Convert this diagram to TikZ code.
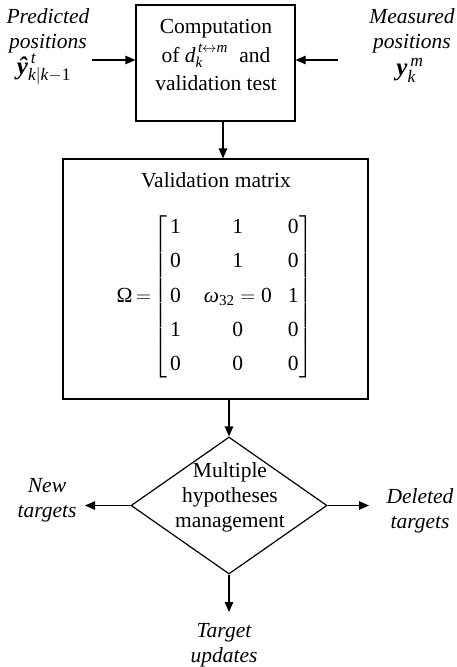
\documentclass[tikz,border=0pt]{standalone}
\usepackage{amsmath}
\usepackage{fontspec}
\setmainfont{Liberation Serif}
\usetikzlibrary{arrows.meta,shapes.geometric}
\newcommand{\ti}[1]{\text{\itshape #1}}
\newcommand{\tu}[1]{\text{\upshape #1}}
\newcommand{\tbi}[1]{\text{\bfseries\itshape #1}}
\begin{document}
\begin{tikzpicture}[x=1pt,y=-1pt,
  line width=1.2pt,
  every node/.style={font=\fontsize{21.5}{25}\selectfont},
  box/.style={draw, rectangle, inner sep=0pt},
  lbl/.style={align=center, inner sep=1pt, font=\fontsize{21.5}{25}\selectfont\itshape},
  bigmath/.style={inner sep=0pt, font=\fontsize{25}{30}\selectfont},
  arr/.style={-{Triangle[length=10pt,width=8.5pt]}}]
\useasboundingbox (0,0) rectangle (457,667);
% top box
\node[box, minimum width=159pt, minimum height=116pt] (comp) at (215.5,63) {};
\node[align=center, inner sep=0pt, font=\fontsize{21.5}{28.5}\selectfont] (comptxt) at (216,55)
  {Computation\\of $\ti{d}_{\ti{k}}^{\,\ti{t}\leftrightarrow\ti{m}}$\; and\\validation test};
% inputs
\node[lbl] (pred) at (48,31) {Predicted\\positions};
\node[bigmath] (yhat) at (44,69) {$\tbi{ŷ}^{\,\ti{t}}_{\ti{k}|\ti{k}-\tu{1}}$};
\node[lbl] (meas) at (412,31) {Measured\\positions};
\node[bigmath] (ym) at (410,70) {$\tbi{y}^{\,\ti{m}}_{\ti{k}}$};
\coordinate (pin) at (92,60);
\coordinate (min) at (338,60);
\draw[arr] (pin) -- (pin -| comp.west);
\draw[arr] (min) -- (min -| comp.east);
% matrix box
\node[box, minimum width=305pt, minimum height=240pt] (mat) at (215.5,279) {};
\node[inner sep=0pt] (mattitle) at (216,180) {Validation matrix};
\node[inner sep=0pt, anchor=west] (omega) at (116,297) {\tu{Ω}$\,=\!\renewcommand{\arraystretch}{1}\left[\begin{array}{@{\hspace{3pt}}c@{\hspace{23pt}}c@{\hspace{16pt}}c@{\hspace{1pt}}}
\tu{1} & \tu{1} & \tu{0}\\[9.3pt]
\tu{0} & \tu{1} & \tu{0}\\[9.3pt]
\tu{0} & \ti{ω}_{\tu{32}}=\tu{0} & \tu{1}\\[9.3pt]
\tu{1} & \tu{0} & \tu{0}\\[9.3pt]
\tu{0} & \tu{0} & \tu{0}
\end{array}\right]$};
\draw[arr] ([xshift=7.5pt]comp.south) -- ([xshift=7.5pt]mat.north);
% diamond
\node[draw, diamond, minimum width=196pt, minimum height=137pt, inner sep=0pt] (mh) at (229,505.5) {};
\node[align=center, inner sep=0pt] (mhtxt) at (230,497) {Multiple\\hypotheses\\management};
\draw[arr] (mat.south -| mh.north) -- (mh.north);
\coordinate (nt) at (85,505.5);
\coordinate (dt) at (369,505.5);
\coordinate (tu) at (229,612);
\draw[arr] (mh.west) -- (nt);
\draw[arr] (mh.east) -- (dt);
\draw[arr] (mh.south) -- (tu);
\node[lbl] (newt) at (47,500) {New\\targets};
\node[lbl] (delt) at (420,511) {Deleted\\targets};
\node[lbl] (tupd) at (224,645) {Target\\updates};
\end{tikzpicture}
\end{document}
